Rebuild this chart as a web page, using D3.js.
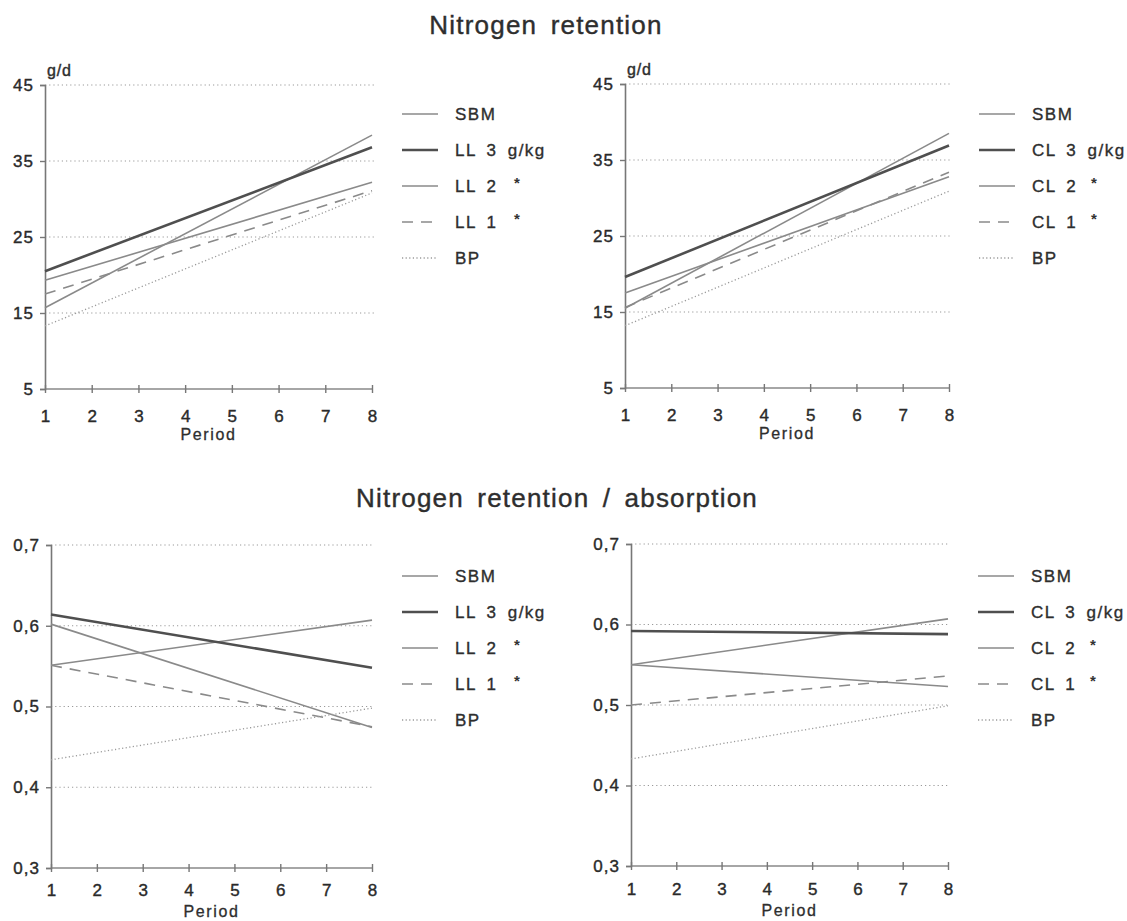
<!DOCTYPE html>
<html>
<head>
<meta charset="utf-8">
<script src="https://cdn.jsdelivr.net/npm/d3@7"></script>
<style>
  body { margin: 0; background: #fff; }
  svg { display: block; font-family: "Liberation Sans", Arial, sans-serif; }
  .tick text { fill: #2a2a2a; stroke: #2a2a2a; stroke-width: 0.4px; }
</style>
</head>
<body>
<div id="chart"></div>
<script>
// periods shown on the x axis, lines are fitted trends drawn from period 1 to 8
var periodTicks = [1, 2, 3, 4, 5, 6, 7, 8];
var linePeriods = [1, 8];

var retentionTicks = [5, 15, 25, 35, 45];
var ratioTicks = [0.3, 0.4, 0.5, 0.6, 0.7];

var lupinLabels = ["SBM", "LL 3 g/kg", "LL 2", "LL 1", "BP"];
var cloverLabels = ["SBM", "CL 3 g/kg", "CL 2", "CL 1", "BP"];
var legendNotes = ["", "", "*", "*", ""];

// values at period 1 and period 8, series order as in the labels
var retentionLupin = [[15.7, 38.4], [20.5, 36.8], [19.3, 32.2], [17.5, 31.1], [13.3, 30.8]];
var retentionClover = [[15.5, 38.5], [19.6, 36.9], [17.5, 32.8], [15.6, 33.4], [13.2, 30.9]];
var ratioLupin = [[0.551, 0.607], [0.614, 0.548], [0.602, 0.474], [0.551, 0.475], [0.434, 0.498]];
var ratioClover = [[0.550, 0.607], [0.592, 0.588], [0.550, 0.523], [0.500, 0.536], [0.433, 0.499]];

var lineStyles = [
    { color: "#8a8a8a", width: 1.6, dash: null },
    { color: "#4f4f4f", width: 2.6, dash: null },
    { color: "#8a8a8a", width: 1.6, dash: null },
    { color: "#8a8a8a", width: 1.6, dash: "11,8" },
    { color: "#9a9a9a", width: 1.3, dash: "1.2,2.4" }
];

var svg = d3.select("#chart").append("svg")
    .attr("width", 1127)
    .attr("height", 921);

function title(text, x, y) {
    svg.append("text")
        .attr("x", x)
        .attr("y", y)
        .attr("text-anchor", "middle")
        .style("font-size", "26px")
        .style("letter-spacing", "1.2px")
        .style("word-spacing", "5px")
        .style("fill", "#2e2e2e")
        .style("stroke", "#2e2e2e")
        .style("stroke-width", "0.4px")
        .text(text);
}

title("Nitrogen retention", 546, 34);
title("Nitrogen retention / absorption", 557, 507);

function drawPanel(p) {
    var x = d3.scaleLinear().domain([1, 8]).range([p.left, p.right]);
    var y = d3.scaleLinear().domain(p.domain).range([p.bottom, p.top]);
    var g = svg.append("g");

    // dotted gridlines
    g.selectAll(".grid")
        .data(p.ticks.slice(1))
        .enter().append("line")
        .attr("x1", p.left)
        .attr("x2", p.right + 2)
        .attr("y1", function(d) { return y(d); })
        .attr("y2", function(d) { return y(d); })
        .attr("stroke", "#9a9a9a")
        .attr("stroke-width", 1.2)
        .attr("stroke-dasharray", "1.2,3");

    var yAxis = g.append("g")
        .attr("transform", "translate(" + p.left + ",0)")
        .call(d3.axisLeft(y).tickValues(p.ticks).tickSize(5).tickPadding(6).tickFormat(p.format));
    yAxis.select(".domain").attr("stroke", "#777").attr("stroke-width", 1.6);
    yAxis.selectAll(".tick line").attr("stroke", "#777").attr("stroke-width", 1.4);
    yAxis.selectAll("text").style("font-size", "17px").style("letter-spacing", "1px");

    var xAxis = g.append("g")
        .attr("transform", "translate(0," + p.bottom + ")")
        .call(d3.axisBottom(x).tickValues(periodTicks).tickSize(4).tickPadding(p.tickPad).tickFormat(d3.format("d")));
    xAxis.select(".domain").attr("stroke", "#888").attr("stroke-width", 1.4)
        .attr("d", "M" + p.left + ",0H" + p.right);
    xAxis.selectAll(".tick line").attr("stroke", "#777").attr("stroke-width", 1.4).attr("y1", -4);
    xAxis.selectAll("text").style("font-size", "17px");

    g.append("text")
        .attr("x", (p.left + p.right) / 2)
        .attr("y", p.bottom + p.periodGap)
        .attr("text-anchor", "middle")
        .style("font-size", "16px")
        .style("letter-spacing", "1.6px")
        .style("fill", "#2e2e2e")
        .style("stroke", "#2e2e2e")
        .style("stroke-width", "0.3px")
        .text("Period");

    if (p.unit) {
        g.append("text")
            .attr("x", p.left + 2)
            .attr("y", p.top - 9)
            .style("font-size", "16px")
            .style("letter-spacing", "0.8px")
            .style("fill", "#2e2e2e")
            .style("stroke", "#2e2e2e")
            .style("stroke-width", "0.4px")
            .text(p.unit);
    }

    var line = d3.line()
        .x(function(d) { return x(d.period); })
        .y(function(d) { return y(d.value); });

    p.series.forEach(function(vals, i) {
        var pts = linePeriods.map(function(per, j) { return { period: per, value: vals[j] }; });
        var s = lineStyles[i];
        g.append("path")
            .datum(pts)
            .attr("d", line)
            .attr("fill", "none")
            .attr("stroke", s.color)
            .attr("stroke-width", s.width)
            .attr("stroke-dasharray", s.dash);
    });

    // legend
    var lx = p.right + 30;
    p.labels.forEach(function(lab, i) {
        var ly = p.legendTop + i * 36;
        var s = lineStyles[i];
        g.append("line")
            .attr("x1", lx).attr("x2", lx + 36)
            .attr("y1", ly).attr("y2", ly)
            .attr("stroke", s.color)
            .attr("stroke-width", s.width)
            .attr("stroke-dasharray", s.dash);
        g.append("text")
            .attr("x", lx + 53)
            .attr("y", ly)
            .attr("dy", "0.36em")
            .style("font-size", "17px")
            .style("letter-spacing", "1.5px")
            .style("word-spacing", "4px")
            .style("fill", "#2e2e2e")
            .style("stroke", "#2e2e2e")
            .style("stroke-width", "0.35px")
            .text(lab);
        if (legendNotes[i]) {
            g.append("text")
                .attr("x", lx + 112)
                .attr("y", ly + 2)
                .style("font-size", "15px")
                .style("font-weight", "bold")
                .style("fill", "#333")
                .text(legendNotes[i]);
        }
    });
}

var commaFmt = function(d) { return d3.format(".1f")(d).replace(".", ","); };

drawPanel({ left: 45, right: 372, top: 85, bottom: 389, domain: [5, 45], ticks: retentionTicks, tickPad: 17, periodGap: 51,
    format: d3.format("d"), unit: "g/d", series: retentionLupin, labels: lupinLabels, legendTop: 114 });
drawPanel({ left: 625, right: 949, top: 84, bottom: 388, domain: [5, 45], ticks: retentionTicks, tickPad: 17, periodGap: 51,
    format: d3.format("d"), unit: "g/d", series: retentionClover, labels: cloverLabels, legendTop: 114 });
drawPanel({ left: 51, right: 372, top: 545, bottom: 868, domain: [0.3, 0.7], ticks: ratioTicks, tickPad: 12, periodGap: 49,
    format: commaFmt, unit: null, series: ratioLupin, labels: lupinLabels, legendTop: 576 });
drawPanel({ left: 631, right: 948, top: 544, bottom: 866, domain: [0.3, 0.7], ticks: ratioTicks, tickPad: 13, periodGap: 50,
    format: commaFmt, unit: null, series: ratioClover, labels: cloverLabels, legendTop: 576 });
</script>
</body>
</html>
